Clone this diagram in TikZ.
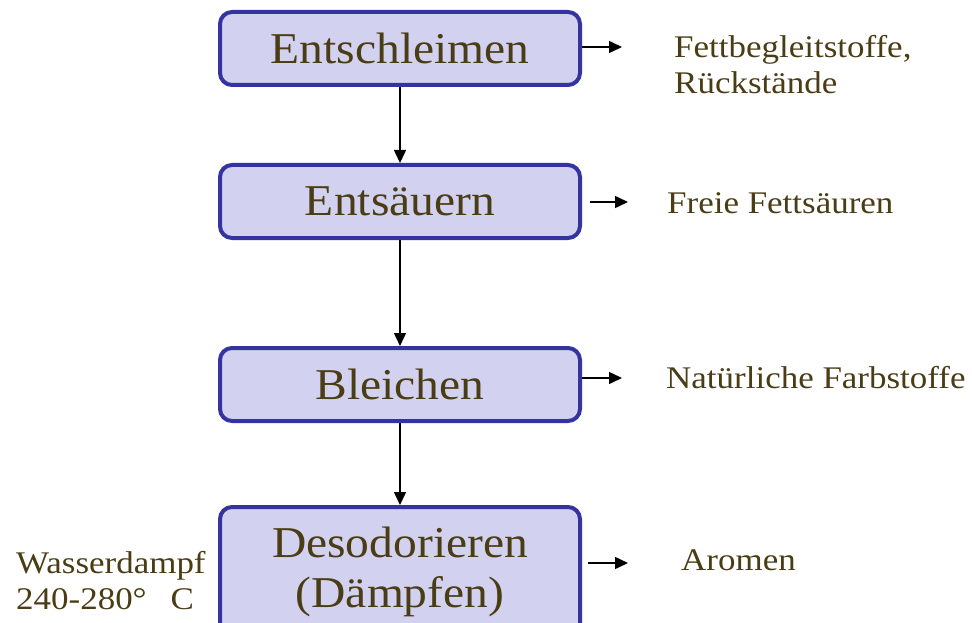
\documentclass[tikz,border=0pt]{standalone}
\usepackage{fontspec}
\setmainfont{Liberation Serif}[FakeStretch=1.08]
\newfontfamily\lblfont{Liberation Serif}[FakeStretch=1.11]
\usetikzlibrary{arrows.meta}
\definecolor{boxfill}{HTML}{D2D2F0}
\definecolor{boxline}{HTML}{3434A0}
\definecolor{txt}{HTML}{4A3C14}
\tikzset{
  stepbox/.style={draw=boxline, fill=boxfill, line width=4pt, rounded corners=12pt,
    minimum width=360pt, inner sep=0pt, text=txt, font=\fontsize{44}{50}\selectfont, align=center},
  lbl/.style={text=txt, anchor=west, inner sep=0pt, align=left, font=\lblfont\fontsize{31.5}{36}\selectfont},
  arr/.style={line width=1.5pt, -{Triangle[length=13pt,width=12pt]}}
}
\begin{document}
\begin{tikzpicture}[x=1pt,y=-1pt]
\useasboundingbox (0,0) rectangle (972,623);
\clip (0,0) rectangle (972,623);
\node[stepbox, minimum height=73pt] (b1) at (400,48.5) {Entschleimen};
\node[stepbox, minimum height=73pt] (b2) at (400,201.5) {Entsäuern};
\node[stepbox, minimum height=73pt] (b3) at (400,384.5) {Bleichen};
\node[stepbox, minimum height=140pt, anchor=north] (b4) at (400,505) {};
\node[text=txt, font=\fontsize{44}{50}\selectfont, align=center, anchor=center] (t4) at (400,572) {Desodorieren\\(Dämpfen)};
\draw[arr] (b1.south) -- (b2.north);
\draw[arr] (b2.south) -- (b3.north);
\draw[arr] (b3.south) -- (b4.north);
\coordinate (a1) at (622,47);
\coordinate (s2) at (590,202);
\coordinate (a2) at (628,202);
\coordinate (a3) at (622,378);
\coordinate (s4) at (588,563);
\coordinate (a4) at (628,563);
\draw[arr] (b1.east |- a1) -- (a1);
\draw[arr] (s2) -- (a2);
\draw[arr] (b3.east |- a3) -- (a3);
\draw[arr] (s4) -- (a4);
\node[lbl] (l1) at (674,65) {Fettbegleitstoffe,\\Rückstände};
\node[lbl] (l2) at (667,203) {Freie Fettsäuren};
\node[lbl] (l3) at (666,378) {Natürliche Farbstoffe};
\node[lbl] (l4) at (681,560) {Aromen};
\node[lbl] (l5) at (16,581) {Wasserdampf\\240-280°\hspace{24pt}C};
\end{tikzpicture}
\end{document}
